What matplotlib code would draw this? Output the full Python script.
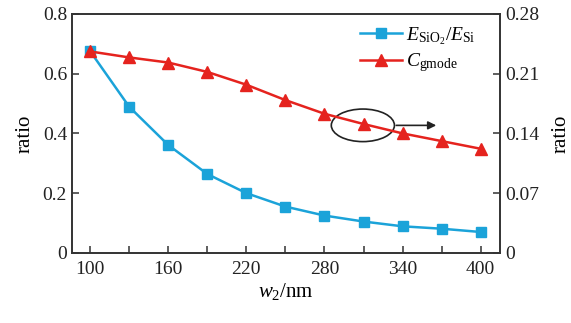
import numpy as np
import matplotlib
matplotlib.use("Agg")
import matplotlib.pyplot as plt
from matplotlib.patches import Ellipse

plt.rcParams['font.family'] = ['Liberation Serif', 'DejaVu Serif']
plt.rcParams['mathtext.fontset'] = 'custom'
plt.rcParams['mathtext.rm'] = 'Liberation Serif'
plt.rcParams['mathtext.it'] = 'Liberation Serif:italic'

# data
w2 = [100, 130, 160, 190, 220, 250, 280, 310, 340, 370, 400]
e_ratio = [0.675, 0.489, 0.361, 0.264, 0.200, 0.155, 0.125, 0.105, 0.089, 0.081, 0.070]
c_gmode = [0.236, 0.229, 0.223, 0.212, 0.197, 0.179, 0.163, 0.151, 0.140, 0.131, 0.122]

blue = '#1ba3d9'
red = '#e5231e'
dark = '#333333'

fig = plt.figure(figsize=(5.71, 3.23), dpi=100)
ax = fig.add_axes([0.126, 0.217, 0.750, 0.740])
ax2 = ax.twinx()

l1, = ax.plot(w2, e_ratio, color=blue, lw=1.8, marker='s', ms=6.5)
l2, = ax2.plot(w2, c_gmode, color=red, lw=1.8, marker='^', ms=8.5)

ax.set_xlim(86, 415)
ax.set_ylim(0, 0.8)
ax2.set_ylim(0, 0.28)

ax.set_xticks(np.arange(100, 401, 60))
ax.set_xticks(np.arange(100, 401, 30), minor=True)
ax.set_yticks([0, 0.2, 0.4, 0.6, 0.8])
ax.set_yticklabels(['0', '0.2', '0.4', '0.6', '0.8'])
ax2.set_yticks([0, 0.07, 0.14, 0.21, 0.28])
ax2.set_yticklabels(['0', '0.07', '0.14', '0.21', '0.28'])

for a in (ax, ax2):
    a.tick_params(direction='in', length=5, width=1.1, labelsize=14, colors=dark, labelcolor='#222222')
    a.tick_params(which='minor', direction='in', length=5, width=1.1, colors=dark)
    for s in a.spines.values():
        s.set_color(dark)
        s.set_linewidth(1.2)
ax.tick_params(axis='x', which='both', top=False, pad=6)

ax.set_ylabel('ratio', fontsize=15, labelpad=6)
ax2.set_ylabel('ratio', fontsize=15, labelpad=9)
ax.set_xlabel('$w_2$/nm', fontsize=15, labelpad=2)

# circle marking the right-axis curve, with arrow
ax.add_patch(Ellipse((309.5, 0.427), 48.5, 0.109, fill=False, ec='#222222', lw=1.2, zorder=5))
ax2.annotate('', xy=(368, 0.1494), xytext=(333, 0.1494),
             arrowprops=dict(arrowstyle='-|>', color='#222222', lw=1.2, mutation_scale=12))

ax2.legend([l1, l2], [r'$E_{\mathrm{SiO_2}}/E_{\mathrm{Si}}$', r'$C_{\mathrm{gmode}}$'],
           loc='upper right', bbox_to_anchor=(0.975, 1.01), frameon=False, fontsize=14,
           handlelength=2.2, handletextpad=0.2, labelspacing=0.25, borderaxespad=0.3)

fig.savefig('out.png', dpi=100)
